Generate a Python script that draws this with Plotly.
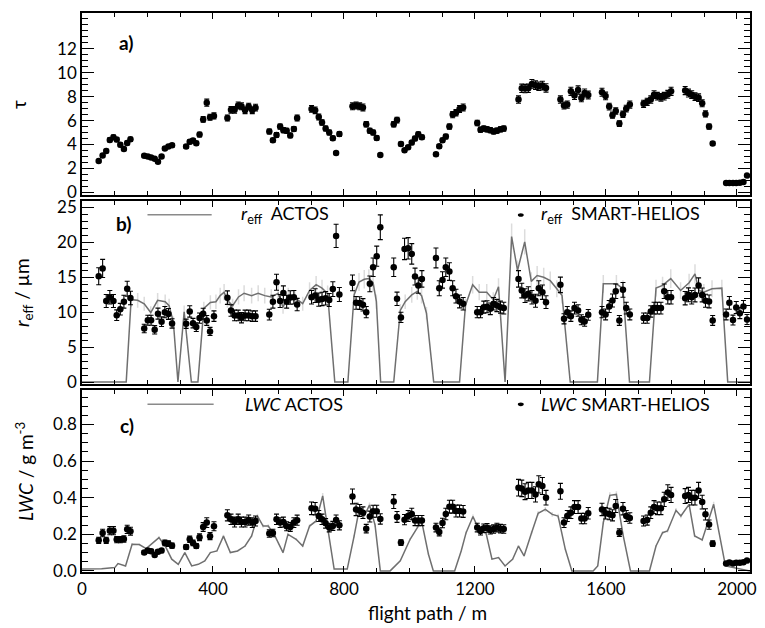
import plotly.graph_objects as go

# ---------------------------------------------------------------------------
# SMART-HELIOS retrievals along the flight path (m)
# ---------------------------------------------------------------------------
dist = [
    51, 63, 74, 85, 96, 106, 117, 128, 138, 148,
    190, 201, 211, 222, 232, 243, 253, 264, 275,
    318, 329, 339, 349, 359, 370, 381, 391, 403,
    444, 455, 466, 477, 487, 498, 509, 520, 530,
    572, 583, 594, 605, 615, 625, 636, 647, 657,
    701, 712, 723, 733, 744, 755, 766, 776, 786,
    826, 837, 848, 858, 868, 879, 889, 900, 911,
    952, 962, 974, 985, 996, 1007, 1017, 1027, 1038,
    1081, 1091, 1101, 1111, 1122, 1132, 1142, 1153, 1164,
    1207, 1217, 1227, 1237, 1247, 1257, 1267, 1278, 1288,
    1333, 1343, 1353, 1363, 1374, 1385, 1395, 1406, 1417,
    1461, 1472, 1482, 1493, 1504, 1515, 1525, 1535, 1546,
    1588, 1599, 1610, 1620, 1630, 1641, 1652, 1662, 1673,
    1715, 1726, 1737, 1747, 1757, 1768, 1778, 1789, 1799,
    1842, 1852, 1862, 1872, 1883, 1894, 1904, 1915, 1926,
    1967, 1977, 1988, 1998, 2009, 2020, 2031,
]

tau = [
    2.63, 3.07, 3.46, 4.38, 4.60, 4.41, 3.97, 3.63, 4.13, 4.43,
    3.05, 3.00, 2.92, 2.80, 2.55, 3.00, 3.66, 3.83, 3.93,
    3.83, 4.22, 4.33, 4.10, 4.83, 6.10, 7.50, 6.28, 6.39,
    6.22, 6.90, 6.90, 7.27, 7.20, 6.86, 7.17, 6.86, 7.08,
    5.08, 4.35, 4.80, 5.50, 5.20, 5.15, 4.76, 5.30, 6.22,
    6.98, 6.86, 6.30, 5.84, 5.34, 5.00, 4.52, 3.28, 4.87,
    7.20, 7.27, 7.20, 7.10, 5.70, 5.15, 5.00, 4.55, 3.12,
    5.70, 6.04, 4.05, 3.52, 3.77, 4.16, 4.50, 4.85, 4.60,
    3.18, 3.85, 4.35, 4.66, 5.50, 6.50, 6.66, 6.97, 7.10,
    5.80, 5.24, 5.33, 5.27, 5.20, 5.08, 5.16, 5.27, 5.33,
    7.76, 8.70, 8.68, 8.70, 9.07, 8.96, 8.87, 8.93, 8.73,
    7.76, 7.26, 7.34, 8.45, 8.09, 8.56, 7.89, 8.31, 8.14,
    8.37, 8.06, 7.17, 6.45, 6.80, 5.75, 6.53, 7.00, 7.34,
    7.40, 7.57, 7.76, 8.17, 8.04, 7.95, 8.04, 8.20, 8.45,
    8.51, 8.30, 8.17, 8.00, 7.92, 7.45, 6.56, 5.50, 4.08,
    0.78, 0.78, 0.78, 0.78, 0.80, 0.87, 1.40,
]

reff = [
    15.14, 16.26, 11.60, 12.14, 11.60, 9.56, 10.43, 11.50, 13.35, 12.03,
    7.66, 8.84, 8.84, 7.48, 9.79, 8.64, 10.00, 9.75, 8.39,
    8.34, 10.10, 8.43, 7.86, 9.15, 9.77, 8.82, 7.24, 9.43,
    12.08, 10.24, 9.53, 9.53, 9.20, 9.53, 9.53, 9.43, 9.43,
    9.65, 11.50, 14.29, 11.60, 12.74, 11.50, 12.10, 12.14, 11.08,
    12.14, 12.37, 11.79, 11.89, 11.99, 11.74, 13.30, 20.92, 12.52,
    14.19, 11.33, 11.31, 11.05, 10.00, 14.05, 16.43, 18.01, 22.15,
    16.43, 11.91, 9.25, 19.05, 19.14, 18.34, 15.09, 13.81, 14.76,
    17.76, 13.43, 14.61, 16.43, 15.81, 13.43, 12.29, 11.53, 11.20,
    10.00, 10.00, 10.72, 10.77, 10.48, 11.20, 10.96, 10.72, 10.58,
    14.76, 13.10, 12.37, 12.63, 12.14, 11.63, 13.43, 12.86, 11.43,
    13.91, 9.05, 10.00, 9.43, 10.58, 10.24, 8.91, 8.67, 9.62,
    10.00, 9.67, 10.81, 11.67, 13.00, 8.82, 13.20, 10.58, 9.67,
    9.15, 9.15, 10.10, 10.58, 10.58, 10.58, 13.00, 12.14, 12.14,
    12.00, 12.48, 12.14, 12.47, 13.81, 12.47, 11.63, 11.53, 8.82,
    9.67, 11.33, 8.86, 10.67, 9.86, 10.81, 8.95,
]

lwc = [
    0.167, 0.207, 0.167, 0.220, 0.220, 0.171, 0.171, 0.175, 0.227, 0.217,
    0.100, 0.111, 0.107, 0.087, 0.105, 0.111, 0.153, 0.149, 0.138,
    0.131, 0.173, 0.153, 0.136, 0.184, 0.240, 0.264, 0.190, 0.244,
    0.304, 0.282, 0.267, 0.282, 0.267, 0.267, 0.278, 0.264, 0.273,
    0.204, 0.207, 0.282, 0.264, 0.267, 0.244, 0.240, 0.264, 0.277,
    0.342, 0.340, 0.300, 0.282, 0.260, 0.237, 0.246, 0.278, 0.249,
    0.407, 0.336, 0.330, 0.318, 0.231, 0.297, 0.326, 0.326, 0.284,
    0.379, 0.295, 0.155, 0.280, 0.300, 0.311, 0.275, 0.275, 0.275,
    0.237, 0.213, 0.262, 0.311, 0.351, 0.351, 0.327, 0.327, 0.325,
    0.237, 0.218, 0.233, 0.235, 0.224, 0.229, 0.237, 0.231, 0.229,
    0.455, 0.451, 0.433, 0.440, 0.440, 0.418, 0.473, 0.464, 0.400,
    0.435, 0.264, 0.300, 0.318, 0.349, 0.349, 0.286, 0.286, 0.315,
    0.336, 0.315, 0.311, 0.304, 0.355, 0.209, 0.340, 0.300, 0.289,
    0.273, 0.278, 0.318, 0.349, 0.342, 0.342, 0.391, 0.428, 0.415,
    0.409, 0.415, 0.400, 0.400, 0.440, 0.376, 0.309, 0.253, 0.149,
    0.040, 0.046, 0.040, 0.044, 0.044, 0.047, 0.057,
]

# ---------------------------------------------------------------------------
# ACTOS in-situ measurements
# ---------------------------------------------------------------------------
actos_dist_r = [
    0, 135, 150, 170, 190, 210, 231, 254, 266, 279, 293, 312, 334, 354,
    372, 392, 409, 422, 434, 444, 460, 478, 495, 518, 538, 558, 578, 599,
    614, 630, 650, 674, 695, 715, 733, 750, 772, 812, 831, 846, 862, 876,
    889, 899, 912, 952, 972, 987, 1007, 1024, 1037, 1052, 1074, 1153, 1171,
    1193, 1213, 1236, 1256, 1272, 1292, 1312, 1330, 1352, 1372, 1390, 1410,
    1430, 1450, 1466, 1491, 1574, 1592, 1632, 1652, 1672, 1733, 1753, 1773,
    1798, 1828, 1854, 1872, 1884, 1899, 1924, 1954, 1972, 2040,
]
actos_reff = [
    0, 0, 11.79, 11.69, 11.21, 9.95, 11.69, 11.50, 10.92, 8.59, 0, 10.04, 0, 0,
    10.53, 11.40, 11.50, 12.37, 12.86, 11.69, 10.92, 12.18, 12.71, 12.37, 12.71, 12.37, 12.18, 12.71,
    10.72, 12.37, 12.08, 11.21, 13.10, 13.93, 13.44, 12.67, 0, 0, 12.47, 14.32, 14.70, 14.80,
    14.22, 11.50, 0, 0, 10.24, 11.50, 12.47, 12.96, 12.37, 9.85, 0, 0, 10.96,
    13.93, 12.86, 12.86, 11.79, 13.64, 0, 20.83, 15.97, 20.05, 14.41, 15.24, 15.00,
    14.51, 13.35, 12.37, 0, 0, 14.05, 14.05, 13.35, 0, 0, 13.44, 13.83,
    14.80, 13.10, 14.22, 15.48, 13.10, 12.86, 13.35, 13.44, 0, 0,
]

actos_dist_l = [
    0, 60, 100, 110, 133, 153, 175, 196, 235, 254, 274, 294, 314, 335, 355,
    375, 392, 412, 432, 453, 475, 498, 518, 536, 553, 569, 589, 614, 629,
    654, 674, 695, 715, 735, 770, 810, 831, 848, 862, 878, 895, 911, 941,
    972, 1002, 1037, 1058, 1073, 1138, 1158, 1173, 1194, 1214, 1234, 1252,
    1272, 1292, 1315, 1333, 1350, 1373, 1393, 1415, 1436, 1454, 1476, 1496,
    1561, 1575, 1592, 1612, 1632, 1652, 1675, 1733, 1753, 1773, 1788, 1814,
    1829, 1854, 1871, 1894, 1929, 1965, 2040,
]
actos_lwc = [
    0.010, 0.012, 0.018, 0.040, 0.027, 0.146, 0.144, 0.122, 0.182, 0.136, 0.064, 0.036, 0.100, 0.027, 0.036,
    0.055, 0.100, 0.109, 0.190, 0.100, 0.109, 0.136, 0.191, 0.300, 0.245, 0.245, 0.191, 0.100, 0.200,
    0.173, 0.136, 0.245, 0.273, 0.410, 0.010, 0.010, 0.190, 0.350, 0.300, 0.360, 0.250, 0.000, 0.000,
    0.055, 0.173, 0.273, 0.091, 0.000, 0.000, 0.109, 0.209, 0.297, 0.218, 0.205, 0.064,
    0.073, 0.027, 0.064, 0.136, 0.082, 0.209, 0.315, 0.336, 0.309, 0.300, 0.118, 0.000,
    0.000, 0.027, 0.264, 0.413, 0.418, 0.200, 0.000, 0.000, 0.136, 0.209, 0.218, 0.331,
    0.300, 0.364, 0.191, 0.169, 0.364, 0.027, 0.000,
]

# axis tick values
x_ticks = [0, 400, 800, 1200, 1600, 2000]
tau_ticks = [0, 2, 4, 6, 8, 10, 12]
reff_ticks = [0, 5, 10, 15, 20, 25]
lwc_ticks = [0.0, 0.2, 0.4, 0.6, 0.8]

FONT = "Lato"
LINE_GREY = "#6f6f6f"
BAND_GREY = "#dcdcdc"

fig = go.Figure()

dot = dict(color="black", size=6.5)


def helios_err(pct):
    return dict(type="percent", value=pct, color="black", thickness=1.1, width=2.5)


# panel a: optical thickness
fig.add_trace(go.Scatter(x=dist, y=tau, mode="markers", marker=dot,
                         error_y=helios_err(4), xaxis="x", yaxis="y"))

# panel b: effective radius
fig.add_trace(go.Scatter(x=actos_dist_r, y=actos_reff, mode="lines",
                         line=dict(color=LINE_GREY, width=1.5),
                         error_y=dict(type="percent", value=9, color=BAND_GREY,
                                      thickness=1.5, width=0),
                         xaxis="x2", yaxis="y2"))
fig.add_trace(go.Scatter(x=dist, y=reff, mode="markers", marker=dot,
                         error_y=helios_err(8), xaxis="x2", yaxis="y2"))

# panel c: liquid water content
fig.add_trace(go.Scatter(x=actos_dist_l, y=actos_lwc, mode="lines",
                         line=dict(color=LINE_GREY, width=1.5),
                         error_y=dict(type="percent", value=4, color=BAND_GREY,
                                      thickness=1.5, width=0),
                         xaxis="x3", yaxis="y3"))
fig.add_trace(go.Scatter(x=dist, y=lwc, mode="markers", marker=dot,
                         error_y=helios_err(10), xaxis="x3", yaxis="y3"))

tick_font = dict(family=FONT, size=17, color="black")

xcommon = dict(
    range=[0, 2040], tickmode="array", tickvals=x_ticks,
    ticks="inside", ticklen=6, tickwidth=1.2, tickcolor="black",
    minor=dict(dtick=100, tick0=0, ticks="inside", ticklen=4, tickwidth=1, tickcolor="black"),
    showline=True, linecolor="black", linewidth=1.5, mirror="ticks",
    showgrid=False, zeroline=False, tickfont=tick_font,
)
ycommon = dict(
    ticks="inside", ticklen=12, tickwidth=1.2, tickcolor="black",
    showline=True, linecolor="black", linewidth=1.5, mirror="ticks",
    showgrid=False, zeroline=False, tickfont=tick_font,
)

fig.update_layout(
    width=765, height=628,
    margin=dict(l=82, r=8, t=12, b=56),
    paper_bgcolor="white", plot_bgcolor="white",
    showlegend=False,
    font=dict(family=FONT, size=17, color="black"),
    xaxis=dict(xcommon, anchor="y", showticklabels=False),
    xaxis2=dict(xcommon, anchor="y2", matches="x", showticklabels=False),
    xaxis3=dict(xcommon, anchor="y3", matches="x", showticklabels=True,
                ticklabelstandoff=1),
    yaxis=dict(ycommon, domain=[0.6745, 1.0], anchor="x", range=[-0.22, 15],
               tickmode="array", tickvals=tau_ticks,
               minor=dict(dtick=0.5, tick0=0, ticks="inside", ticklen=6, tickcolor="black")),
    yaxis2=dict(ycommon, domain=[0.337, 0.663], anchor="x2", range=[-0.23, 25.86],
                tickmode="array", tickvals=reff_ticks,
                minor=dict(dtick=1, tick0=0, ticks="inside", ticklen=6, tickcolor="black")),
    yaxis3=dict(ycommon, domain=[0.0, 0.326], anchor="x3", range=[-0.006, 0.99],
                tickmode="array", tickvals=lwc_ticks,
                ticktext=[f"{v:.1f}" for v in lwc_ticks],
                minor=dict(dtick=0.05, tick0=0, ticks="inside", ticklen=6, tickcolor="black")),
)

legend_font = dict(family=FONT, size=18, color="black")
panel_font = dict(family=FONT, size=19, color="black")

annotations = [
    # panel labels
    dict(x=136, y=0.84, xref="x", yref="y domain", text="<b>a)</b>", font=panel_font,
         showarrow=False, xanchor="center", yanchor="middle"),
    dict(x=126, y=0.876, xref="x2", yref="y2 domain", text="<b>b)</b>", font=panel_font,
         showarrow=False, xanchor="center", yanchor="middle"),
    dict(x=137, y=0.805, xref="x3", yref="y3 domain", text="<b>c)</b>", font=panel_font,
         showarrow=False, xanchor="center", yanchor="middle"),
    # legend texts
    dict(x=480, y=0.93, xref="x2", yref="y2 domain",
         text="<i>r</i><sub>eff</sub>  ACTOS", font=legend_font,
         showarrow=False, xanchor="left", yanchor="middle"),
    dict(x=1395, y=0.93, xref="x2", yref="y2 domain",
         text="<i>r</i><sub>eff</sub>  SMART-HELIOS", font=legend_font,
         showarrow=False, xanchor="left", yanchor="middle"),
    dict(x=493, y=0.92, xref="x3", yref="y3 domain",
         text="<i>LWC</i> ACTOS", font=legend_font,
         showarrow=False, xanchor="left", yanchor="middle"),
    dict(x=1397, y=0.92, xref="x3", yref="y3 domain",
         text="<i>LWC</i> SMART-HELIOS", font=legend_font,
         showarrow=False, xanchor="left", yanchor="middle"),
    # axis titles
    dict(x=-0.096, y=0.837, xref="paper", yref="paper", text="τ",
         font=dict(family=FONT, size=19), textangle=-90, showarrow=False,
         xanchor="center", yanchor="middle"),
    dict(x=-0.089, y=0.50, xref="paper", yref="paper",
         text="<i>r</i><sub>eff</sub> / µm",
         font=dict(family=FONT, size=19), textangle=-90, showarrow=False,
         xanchor="center", yanchor="middle"),
    dict(x=-0.086, y=0.18, xref="paper", yref="paper",
         text="<i>LWC</i> / g m<sup>-3</sup>",
         font=dict(family=FONT, size=19), textangle=-90, showarrow=False,
         xanchor="center", yanchor="middle"),
    dict(x=0.517, y=-0.073, xref="paper", yref="paper", text="flight path / m",
         font=dict(family=FONT, size=19), showarrow=False,
         xanchor="center", yanchor="middle"),
]
fig.update_layout(annotations=annotations)

# legend symbols
shapes = [
    dict(type="line", xref="x2", yref="y2 domain", x0=200, x1=396, y0=0.927, y1=0.927,
         line=dict(color="#8a8a8a", width=1.5)),
    dict(type="circle", xref="x2", yref="y2 domain", x0=1331, x1=1349, y0=0.915, y1=0.935,
         fillcolor="black", line=dict(color="black", width=0)),
    dict(type="line", xref="x3", yref="y3 domain", x0=200, x1=402, y0=0.92, y1=0.92,
         line=dict(color="#8a8a8a", width=1.5)),
    dict(type="circle", xref="x3", yref="y3 domain", x0=1331, x1=1349, y0=0.91, y1=0.93,
         fillcolor="black", line=dict(color="black", width=0)),
]
fig.update_layout(shapes=shapes)

fig.write_html("out.html")
